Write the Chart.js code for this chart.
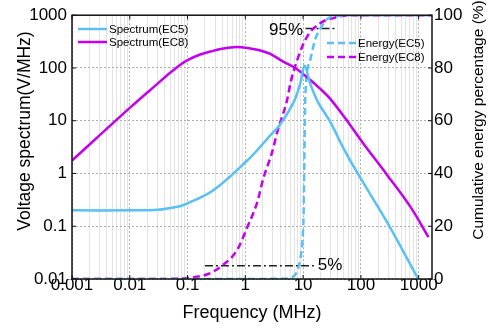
<!DOCTYPE html>
<html>
<head>
<meta charset="utf-8">
<script src="https://cdn.jsdelivr.net/npm/chart.js@4.4.0/dist/chart.umd.min.js"></script>
<style>
  html, body { margin: 0; padding: 0; background: #fff; }
</style>
</head>
<body>
<canvas id="myChart" width="491" height="328"></canvas>
<script>
//Script

//values: frequency (MHz) -> voltage spectrum (V/MHz)
const ec5SpecFreq = [0.001, 0.01, 0.03, 0.074, 0.1, 0.28, 1.08, 1.81, 2.5, 4, 6.8, 8.9, 10.6, 13.3, 18.3, 29.5, 50, 88, 290, 960];
const ec5SpecVal = [0.2, 0.2, 0.205, 0.24, 0.27, 0.48, 1.76, 3.2, 4.8, 8.5, 22, 50, 110, 50, 22, 9.5, 3.0, 1.0, 0.115, 0.0105];

const ec8SpecFreq = [0.001, 0.01, 0.03, 0.05, 0.074, 0.1, 0.165, 0.25, 0.37, 0.72, 1.22, 1.82, 2.7, 4.37, 7.3, 10.9, 19.9, 29.5, 54, 110, 290, 725, 1480];
const ec8SpecVal = [1.76, 17.5, 50, 81, 114, 141, 180, 205, 228, 249, 233, 214, 184, 135, 100, 71, 40, 26, 11, 3.7, 0.91, 0.23, 0.062];

//frequency (MHz) -> cumulative energy percentage (%)
const ec5EnergyFreq = [0.001, 1, 4, 6, 7.5, 8.2, 9, 9.6, 10.2, 10.5, 10.8, 11.3, 13.3, 16.3, 20, 26, 40, 66, 1700];
const ec5EnergyVal = [0, 0, 0.1, 0.4, 2, 4, 8, 13, 25, 45, 65, 75, 83, 91, 95, 98.5, 99.7, 100, 100];

const ec8EnergyFreq = [0.001, 0.03, 0.06, 0.1, 0.22, 0.41, 0.72, 1.08, 1.6, 2.04, 2.9, 3.6, 5.3, 6, 7.9, 11.8, 19.9, 39, 66, 1700];
const ec8EnergyVal = [0, 0, 0.1, 0.4, 1.8, 5.3, 11, 19.6, 29, 38, 48, 56, 68, 74, 83, 92, 97, 99.3, 100, 100];

//dash-dot marker lines for 95% and 5%
const hiMarkFreq = [11, 39];
const hiMarkPct = [95, 95];
const loMarkFreq = [0.2, 16];
const loMarkPct = [5, 5];

//tick labels
const freqTicks = [0.001, 0.01, 0.1, 1, 10, 100, 1000];
const voltTicks = [0.01, 0.1, 1, 10, 100, 1000];
const pctTicks = [0, 20, 40, 60, 80, 100];

const font = "'Liberation Sans', Arial, sans-serif";
const blue = "#58c0f4";
const purple = "#c400ee";

function toPoints(xs, ys) {
  return xs.map((x, i) => ({ x: x, y: ys[i] }));
}

function isDecade(v) {
  let l = Math.log10(v);
  return Math.abs(l - Math.round(l)) < 1e-6;
}

//legends, frame, marker texts and axis titles
const extras = {
  id: "extras",
  afterDatasetsDraw(chart) {
    const { ctx, chartArea: a } = chart;
    const xs = chart.scales.x;
    const yp = chart.scales.y2;
    ctx.save();

    //frame with inward ticks
    ctx.setLineDash([]);
    ctx.strokeStyle = "#111";
    ctx.lineWidth = 1.5;
    ctx.strokeRect(a.left, a.top, a.right - a.left, a.bottom - a.top);
    ctx.lineWidth = 1;
    ctx.beginPath();
    for (let f of freqTicks) {
      let px = xs.getPixelForValue(f);
      ctx.moveTo(px, a.top); ctx.lineTo(px, a.top + 4);
      ctx.moveTo(px, a.bottom); ctx.lineTo(px, a.bottom - 4);
    }
    for (let p of pctTicks) {
      let py = yp.getPixelForValue(p);
      ctx.moveTo(a.left, py); ctx.lineTo(a.left + 4, py);
      ctx.moveTo(a.right, py); ctx.lineTo(a.right - 4, py);
    }
    ctx.stroke();

    //legends
    ctx.font = "11.5px " + font;
    ctx.textBaseline = "middle";
    ctx.textAlign = "left";
    const spots = [[78, 29], [78, 42], [327, 43], [327, 57]];
    chart.data.datasets.slice(0, 4).forEach((ds, i) => {
      let [lx, ly] = spots[i];
      ctx.strokeStyle = ds.borderColor;
      ctx.lineWidth = 2.5;
      ctx.setLineDash(ds.borderDash || []);
      ctx.beginPath();
      ctx.moveTo(lx, ly); ctx.lineTo(lx + 29, ly);
      ctx.stroke();
      ctx.fillStyle = "#000";
      ctx.fillText(ds.label, lx + 31, ly + 0.5);
    });
    ctx.setLineDash([]);

    //marker texts
    ctx.font = "17px " + font;
    ctx.fillStyle = "#000";
    ctx.textAlign = "right";
    ctx.fillText("95%", xs.getPixelForValue(10), yp.getPixelForValue(95) + 2);
    ctx.textAlign = "left";
    ctx.fillText("5%", xs.getPixelForValue(18), yp.getPixelForValue(5));

    //axis titles
    ctx.textAlign = "center";
    ctx.font = "17.5px " + font;
    ctx.save();
    ctx.translate(25, 131);
    ctx.rotate(-Math.PI / 2);
    ctx.fillText("Voltage spectrum(V/MHz)", 0, 0);
    ctx.restore();
    ctx.font = "15.5px " + font;
    ctx.translate(479, 120);
    ctx.rotate(-Math.PI / 2);
    ctx.fillText("Cumulative energy percentage (%)", 0, 0);
    ctx.restore();
  }
};

function loadChart() {
  let ctx = document.getElementById("myChart").getContext("2d");
  let tickFont = { size: 17, family: font };
  let spec = { yAxisID: "y", borderWidth: 2.5, tension: 0.35, cubicInterpolationMode: "default" };
  let energy = { yAxisID: "y2", borderWidth: 2.5, borderDash: [7, 4], cubicInterpolationMode: "monotone" };
  let mark = { yAxisID: "y2", borderColor: "#222", borderWidth: 1.5, borderDash: [8, 3, 2, 3] };
  new Chart(ctx, {
    type: "line",
    data: {
      datasets: [
        { ...spec, label: "Spectrum(EC5)", data: toPoints(ec5SpecFreq, ec5SpecVal), borderColor: blue },
        { ...spec, label: "Spectrum(EC8)", data: toPoints(ec8SpecFreq, ec8SpecVal), borderColor: purple },
        { ...energy, label: "Energy(EC5)", data: toPoints(ec5EnergyFreq, ec5EnergyVal), borderColor: blue },
        { ...energy, label: "Energy(EC8)", data: toPoints(ec8EnergyFreq, ec8EnergyVal), borderColor: purple },
        { ...mark, label: "95%", data: toPoints(hiMarkFreq, hiMarkPct) },
        { ...mark, label: "5%", data: toPoints(loMarkFreq, loMarkPct) }
      ]
    },
    options: {
      responsive: false,
      animation: false,
      devicePixelRatio: 1,
      layout: { padding: { top: 14, left: 0, right: 0, bottom: 0 } },
      elements: { point: { radius: 0 } },
      plugins: { legend: { display: false }, tooltip: { enabled: false } },
      scales: {
        x: {
          type: "logarithmic",
          min: 0.001,
          max: 1700,
          afterBuildTicks: scale => {
            let ticks = [];
            for (let d of freqTicks) {
              for (let k = 1; k <= 9; k++) {
                if (d * k <= 1700) ticks.push({ value: d * k });
              }
            }
            scale.ticks = ticks;
          },
          ticks: {
            autoSkip: false,
            maxRotation: 0,
            padding: -4,
            color: "#000",
            font: tickFont,
            callback: v => (freqTicks.includes(v) ? String(v) : "")
          },
          grid: {
            drawTicks: false,
            lineWidth: 1,
            color: c => (c.tick && isDecade(c.tick.value) ? "#adadad" : "#e3e3e3")
          },
          border: { display: false, dash: c => (c.tick && isDecade(c.tick.value) ? [2, 2] : []) },
          title: { display: true, text: "Frequency (MHz)", color: "#000", font: { size: 18, family: font }, padding: { top: 0, bottom: 4 } },
          afterFit: s => { s.height = 49; }
        },
        y: {
          type: "logarithmic",
          position: "left",
          min: 0.01,
          max: 1000,
          afterBuildTicks: s => { s.ticks = voltTicks.map(v => ({ value: v })); },
          ticks: { padding: 5, color: "#000", font: tickFont, callback: v => String(v) },
          grid: { drawTicks: false, color: "#adadad", lineWidth: 1 },
          border: { display: false, dash: [2, 2] },
          afterFit: s => { s.width = 72; }
        },
        y2: {
          type: "linear",
          position: "right",
          min: 0,
          max: 100,
          afterBuildTicks: s => { s.ticks = pctTicks.map(v => ({ value: v })); },
          ticks: { padding: 2, color: "#000", font: tickFont },
          grid: { drawOnChartArea: false, drawTicks: false },
          border: { display: false },
          afterFit: s => { s.width = 59; }
        }
      }
    },
    plugins: [extras]
  });
}

//This happens when the page is loaded
window.onload = function() {
  loadChart();
};
</script>
</body>
</html>
